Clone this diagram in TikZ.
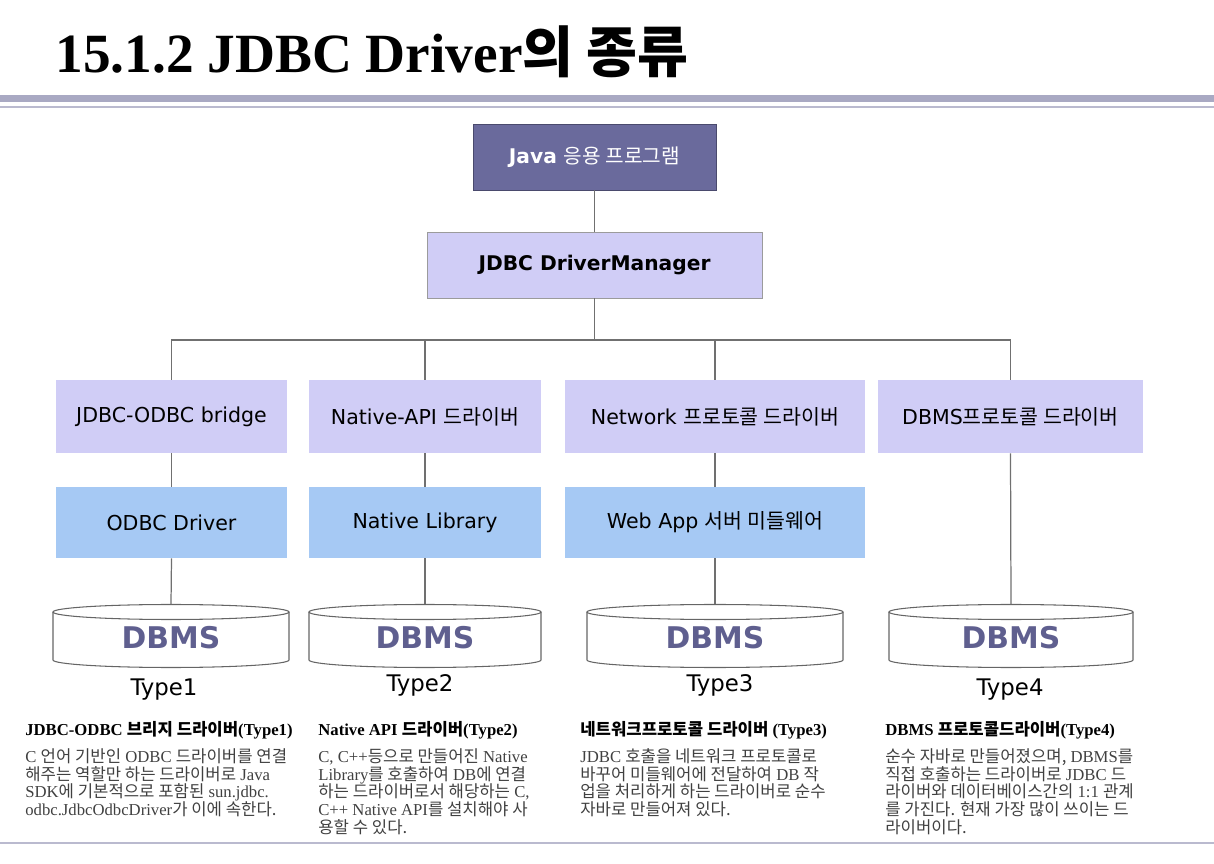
\documentclass[tikz,border=0pt]{standalone}
\usepackage{fontspec}
\setmainfont{Liberation Serif}
\setsansfont{DejaVu Sans}
\newfontfamily\krfont{Noto Sans CJK KR}
\newcommand{\kr}[1]{{\krfont #1}}
\newcommand{\krm}[1]{{\krfont\mdseries #1}}
\usetikzlibrary{positioning}

\definecolor{javabox}{HTML}{6A6A9C}
\definecolor{lavbox}{HTML}{D0CDF6}
\definecolor{bluebox}{HTML}{A6C9F4}
\definecolor{dbtext}{HTML}{5F5F8F}
\definecolor{linegray}{HTML}{707070}
\definecolor{rulecol}{HTML}{A9A9C3}
\definecolor{bodygray}{HTML}{404040}

\begin{document}
\begin{tikzpicture}[x=0.02cm,y=-0.02cm,
    conn/.style={linegray,line width=0.7pt},
    topbox/.style={fill=javabox,draw=javabox!70!black,text=white,
      font=\sffamily\bfseries\fontsize{11.5}{13}\selectfont,
      minimum width=4.86cm,minimum height=1.32cm,inner sep=0pt},
    mgrbox/.style={fill=lavbox,draw=linegray!70,
      font=\sffamily\bfseries\fontsize{11.5}{13}\selectfont,
      minimum width=6.7cm,minimum height=1.32cm,inner sep=0pt},
    drvbox/.style={fill=lavbox,font=\sffamily\fontsize{11.7}{13}\selectfont,
      minimum height=1.46cm,inner sep=0pt},
    midbox/.style={fill=bluebox,font=\sffamily\fontsize{11.7}{13}\selectfont,
      minimum height=1.42cm,inner sep=0pt},
    dbms/.style={text=dbtext,font=\sffamily\bfseries\fontsize{17}{19}\selectfont,inner sep=0pt},
    typelbl/.style={font=\sffamily\fontsize{13}{15}\selectfont,inner sep=0pt},
    deschead/.style={anchor=north west,inner sep=0pt,
      font=\bfseries\fontsize{9.5}{11}\selectfont},
    descbody/.style={anchor=north west,inner sep=0pt,align=left,text=bodygray,
      font=\fontsize{9.5}{10.1}\selectfont}]

  \useasboundingbox (0,0) rectangle (1214,864);

  % --- title and rules ---
  \node[anchor=base west,inner sep=0pt,font=\bfseries\fontsize{31.5}{34}\selectfont]
    (ttl) at (55,73) {15.1.2 JDBC Driver\kr{의 종류}};
  \fill[rulecol] (0,95) rectangle (1214,102);
  \draw[rulecol!80,line width=1.2pt] (0,107) -- (1214,107);
  \draw[rulecol!80,line width=1.6pt] (0,843) -- (1214,843);

  % --- upper part ---
  \node[topbox] (java) at (594.5,157) {Java \krm{응용 프로그램}};
  \node[mgrbox] (mgr) at (594.5,265) {JDBC DriverManager};
  \coordinate (bus) at (594.5,340);

  % drivers (row 1) and middle layer (row 2)
  \node[drvbox,minimum width=4.62cm] (b1) at (171.5,416.5) {JDBC-ODBC bridge};
  \node[drvbox,minimum width=4.64cm] (b2) at (425,416.5) {Native-API \krm{드라이버}};
  \node[drvbox,minimum width=6.0cm]  (b3) at (715,416.5) {Network \krm{프로토콜 드라이버}};
  \node[drvbox,minimum width=5.3cm]  (b4) at (1010.5,416.5) {DBMS\krm{프로토콜 드라이버}};

  \node[midbox,minimum width=4.62cm] (m1) at (171.5,522.5) {ODBC Driver};
  \node[midbox,minimum width=4.64cm] (m2) at (425,522.5) {Native Library};
  \node[midbox,minimum width=6.0cm]  (m3) at (715,522.5) {Web App \krm{서버 미들웨어}};

  % --- DBMS cylinders ---
  \foreach \n/\cx/\w in {1/171/236, 2/425/232, 3/715/256, 4/1011/244}{
    \pgfmathsetmacro\rx{\w/2}
    \draw[linegray!90!black,line width=0.6pt] (\cx,612) ellipse [x radius=\rx, y radius=7.5];
    \draw[linegray!90!black,line width=0.6pt] (\cx-\rx,612) -- (\cx-\rx,660)
      arc[start angle=180, end angle=0, x radius=\rx, y radius=7.5] -- (\cx+\rx,612);
    \coordinate (db\n) at (\cx,604.5);
    \node[dbms] (dbl\n) at (\cx,638) {DBMS};
  }
  \foreach \n/\tx/\ty in {1/164/690, 2/420/685, 3/720/685, 4/1010/690}
    \node[typelbl] (t\n) at (\tx,\ty) {Type\n};

  % --- connectors ---
  \draw[conn] (java) -- (mgr);
  \draw[conn] (mgr) -- (bus);
  \draw[conn] (b1.north) -- (b1.north |- bus) -- (b4.north |- bus) -- (b4.north);
  \draw[conn] (b2.north) -- (b2.north |- bus);
  \draw[conn] (b3.north) -- (b3.north |- bus);
  \foreach \n in {1,2,3}{
    \draw[conn] (b\n) -- (m\n);
    \draw[conn] (m\n.south) -- (db\n);
  }
  \draw[conn] (b4.south) -- (db4);

  % --- descriptions ---
  \node[deschead] (h1) at (25,721) {JDBC-ODBC \kr{브리지 드라이버}(Type1)};
  \node[descbody,below=5pt of h1.south west,anchor=north west] (d1)
    {C \kr{언어 기반인} ODBC \kr{드라이버를 연결}\\
     \kr{해주는 역할만 하는 드라이버로} Java\\
     SDK\kr{에 기본적으로 포함된} sun.jdbc.\\
     odbc.JdbcOdbcDriver\kr{가 이에 속한다.}};

  \node[deschead] (h2) at (318,721) {Native API \kr{드라이버}(Type2)};
  \node[descbody,below=5pt of h2.south west,anchor=north west] (d2)
    {C, C++\kr{등으로 만들어진} Native\\
     Library\kr{를 호출하여} DB\kr{에 연결}\\
     \kr{하는 드라이버로서 해당하는} C,\\
     C++ Native API\kr{를 설치해야 사}\\
     \kr{용할 수 있다.}};

  \node[deschead] (h3) at (580,721) {\kr{네트워크프로토콜 드라이버} (Type3)};
  \node[descbody,below=5pt of h3.south west,anchor=north west] (d3)
    {JDBC \kr{호출을 네트워크 프로토콜로}\\
     \kr{바꾸어 미들웨어에 전달하여} DB \kr{작}\\
     \kr{업을 처리하게 하는 드라이버로 순수}\\
     \kr{자바로 만들어져 있다.}};

  \node[deschead] (h4) at (885,721) {DBMS \kr{프로토콜드라이버}(Type4)};
  \node[descbody,below=5pt of h4.south west,anchor=north west] (d4)
    {\kr{순수 자바로 만들어졌으며,} DBMS\kr{를}\\
     \kr{직접 호출하는 드라이버로} JDBC \kr{드}\\
     \kr{라이버와 데이터베이스간의} 1:1 \kr{관계}\\
     \kr{를 가진다. 현재 가장 많이 쓰이는 드}\\
     \kr{라이버이다.}};

\end{tikzpicture}
\end{document}
